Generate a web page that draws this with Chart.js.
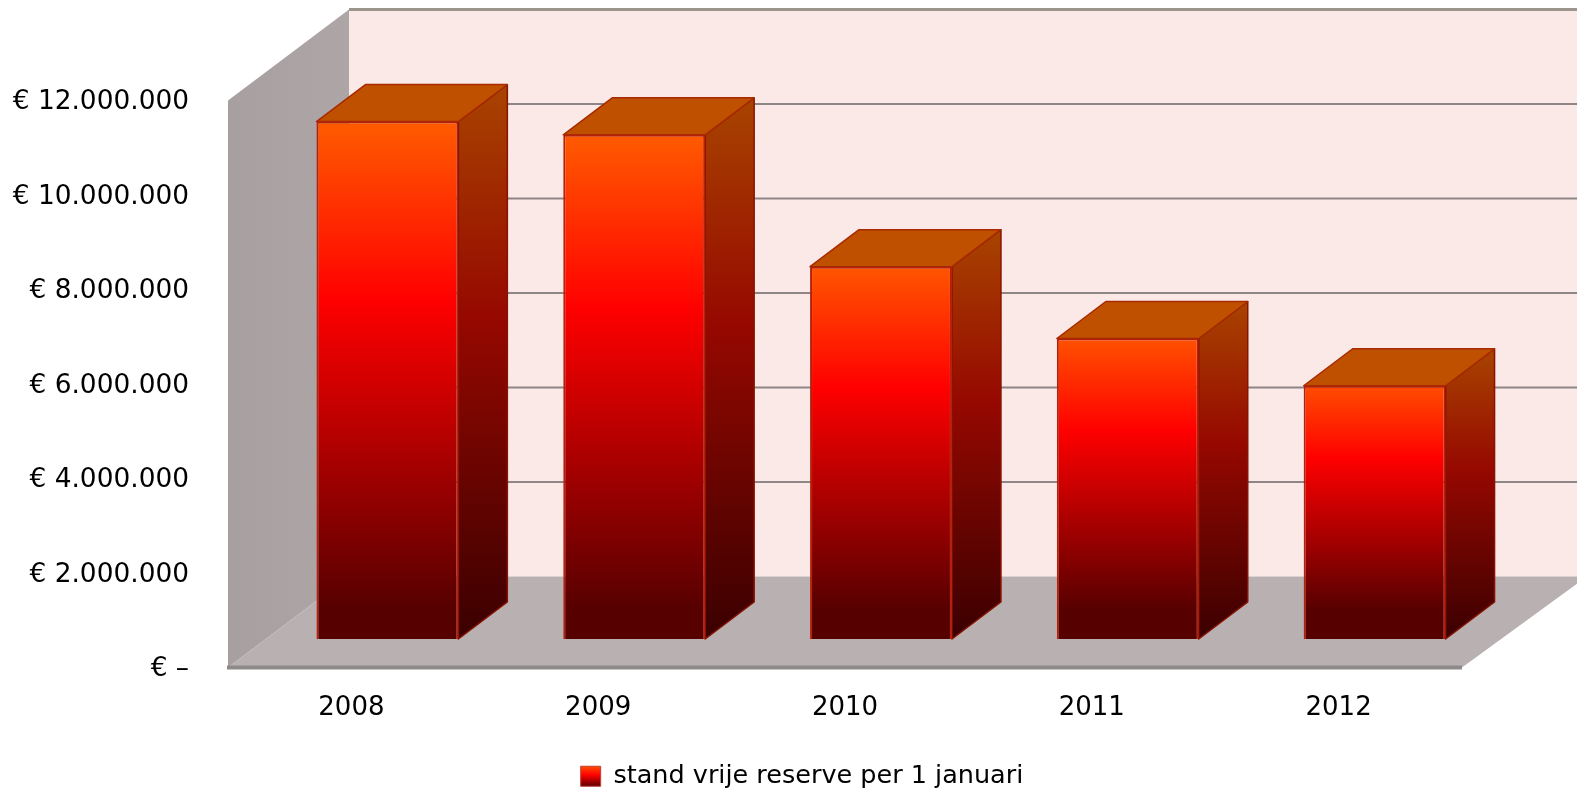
<!DOCTYPE html>
<html>
<head>
<meta charset="utf-8">
<title>stand vrije reserve</title>
<script src="https://cdn.jsdelivr.net/npm/chart.js@4"></script>
<style>
  html, body { margin: 0; background: #fff; }
  canvas { display: block; }
</style>
</head>
<body>
<canvas id="reserveChart" width="1577" height="790"></canvas>
<script>
const years = ['2008', '2009', '2010', '2011', '2012'];
const reserve = [10950000, 10670000, 7880000, 6360000, 5360000];
const yTickLabels = ['€ –', '€ 2.000.000', '€ 4.000.000', '€ 6.000.000', '€ 8.000.000', '€ 10.000.000', '€ 12.000.000'];
const seriesName = 'stand vrije reserve per 1 januari';

// 3D look: back wall offset, bar offset from the front edge, bar depth
const WALL = { dx: 121, dy: 91 };
const SHIFT = { dx: 36, dy: 28.5 };
const DEPTH = { dx: 49, dy: 37 };
const FONT = '"DejaVu Sans", sans-serif';

function poly(ctx, pts, fill, stroke, lw) {
  ctx.beginPath();
  pts.forEach((p, i) => i ? ctx.lineTo(p[0], p[1]) : ctx.moveTo(p[0], p[1]));
  ctx.closePath();
  ctx.fillStyle = fill;
  ctx.fill();
  if (stroke) {
    ctx.strokeStyle = stroke;
    ctx.lineWidth = lw || 1;
    ctx.stroke();
  }
}

function vGrad(ctx, top, bottom, stops) {
  const g = ctx.createLinearGradient(0, top, 0, bottom);
  stops.forEach(s => g.addColorStop(s[0], s[1]));
  return g;
}

const box3d = {
  id: 'box3d',
  afterLayout(chart) {
    // legend sits off-centre and a bit lower than the default layout puts it
    chart.legend.left = 142;
    chart.legend.top += 9;
  },
  beforeDatasetsDraw(chart) {
    const ctx = chart.ctx;
    const { left, right, top, bottom } = chart.chartArea;
    const w = chart.width;
    const y = chart.scales.y;

    ctx.save();
    // back wall
    poly(ctx, [[left + WALL.dx, top - WALL.dy], [w, top - WALL.dy], [w, bottom - WALL.dy], [left + WALL.dx, bottom - WALL.dy]], '#fbe9e7');

    // grid lines live on the back wall
    y.ticks.forEach(t => {
      if (t.value === 0) return;
      const py = y.getPixelForValue(t.value) - WALL.dy;
      ctx.beginPath();
      ctx.moveTo(left + WALL.dx, py);
      ctx.lineTo(w, py);
      ctx.strokeStyle = t.value === 12000000 ? '#9c958c' : '#8e8686';
      ctx.lineWidth = t.value === 12000000 ? 3 : 2;
      ctx.stroke();
    });

    // left wall and floor
    const wallFill = ctx.createLinearGradient(left, 0, left + WALL.dx, 0);
    wallFill.addColorStop(0, '#a8a0a0');
    wallFill.addColorStop(1, '#aea6a6');
    poly(ctx, [[left, top], [left + WALL.dx, top - WALL.dy], [left + WALL.dx, bottom - WALL.dy], [left, bottom]], wallFill);
    poly(ctx, [[left, bottom], [left + WALL.dx, bottom - WALL.dy], [w + 10, bottom - WALL.dy], [right, bottom]], '#b9b1b1');

    // front edge of the floor
    ctx.beginPath();
    ctx.moveTo(left - 1, bottom);
    ctx.lineTo(right, bottom);
    ctx.strokeStyle = '#8f8a8a';
    ctx.lineWidth = 4;
    ctx.stroke();

    // side and top faces of the bars
    ctx.lineJoin = 'round';
    chart.getDatasetMeta(0).data.forEach(bar => {
      const x1 = bar.x - bar.width / 2 + SHIFT.dx;
      const x2 = bar.x + bar.width / 2 + SHIFT.dx;
      const yt = bar.y - SHIFT.dy;
      const yb = bar.base - SHIFT.dy;
      const side = vGrad(ctx, yt - DEPTH.dy, yb, [[0, '#a84400'], [0.42, '#960800'], [1, '#3a0000']]);
      poly(ctx, [[x2, yt], [x2 + DEPTH.dx, yt - DEPTH.dy], [x2 + DEPTH.dx, yb - DEPTH.dy], [x2, yb]], side, '#8a1200', 1.5);
      poly(ctx, [[x1, yt], [x1 + DEPTH.dx, yt - DEPTH.dy], [x2 + DEPTH.dx, yt - DEPTH.dy], [x2, yt]], '#bf5000', '#a82a00', 1.5);
    });
    ctx.restore();

    // the front faces are the library's own bars, moved onto the floor
    ctx.save();
    ctx.translate(SHIFT.dx, -SHIFT.dy);
  },
  afterDatasetsDraw(chart) {
    chart.ctx.restore();
  }
};

const canvas = document.getElementById('reserveChart');

new Chart(canvas.getContext('2d'), {
  type: 'bar',
  plugins: [box3d],
  data: {
    labels: years,
    datasets: [{
      label: seriesName,
      data: reserve,
      clip: false,
      categoryPercentage: 1,
      barPercentage: 0.575,
      borderWidth: 2,
      borderColor: '#b5200c',
      backgroundColor(c) {
        if (c.raw === undefined) return '#ff0000';
        const y = c.chart.scales.y;
        if (!y) return '#ff0000';
        return vGrad(c.chart.ctx, y.getPixelForValue(c.raw) - SHIFT.dy, y.getPixelForValue(0) - SHIFT.dy,
          [[0, '#ff6a00'], [0.4, '#ff0000'], [1, '#560000']]);
      }
    }]
  },
  options: {
    responsive: false,
    animation: false,
    devicePixelRatio: 1,
    events: [],
    layout: { padding: { top: 100.5, left: 0, right: 115, bottom: 0 } },
    scales: {
      x: {
        grid: { display: false, drawTicks: false },
        border: { display: false },
        afterFit(scale) { scale.height = 87; },
        ticks: { color: '#000', padding: 25, maxRotation: 0, font: { family: FONT, size: 26 } }
      },
      y: {
        min: 0,
        max: 12000000,
        grid: { display: false, drawTicks: false },
        border: { display: false },
        afterFit(scale) { scale.width = 228; },
        ticks: {
          stepSize: 2000000,
          color: '#000',
          padding: 39,
          // empty first line + small line height nudges the labels 2px down
          font: { family: FONT, size: 26.4, lineHeight: '4px' },
          callback: (v, i) => ['', yTickLabels[i]]
        }
      }
    },
    plugins: {
      tooltip: { enabled: false },
      legend: {
        position: 'bottom',
        labels: {
          boxWidth: 20,
          boxHeight: 20,
          padding: 0,
          color: '#000',
          font: { family: FONT, size: 25.5 },
          generateLabels(chart) {
            return [{
              text: seriesName,
              fillStyle: vGrad(chart.ctx, 766, 786, [[0, '#ff5000'], [0.45, '#ff0000'], [1, '#600000']]),
              strokeStyle: '#c04030',
              lineWidth: 1,
              datasetIndex: 0
            }];
          }
        }
      }
    }
  }
});
</script>
</body>
</html>
